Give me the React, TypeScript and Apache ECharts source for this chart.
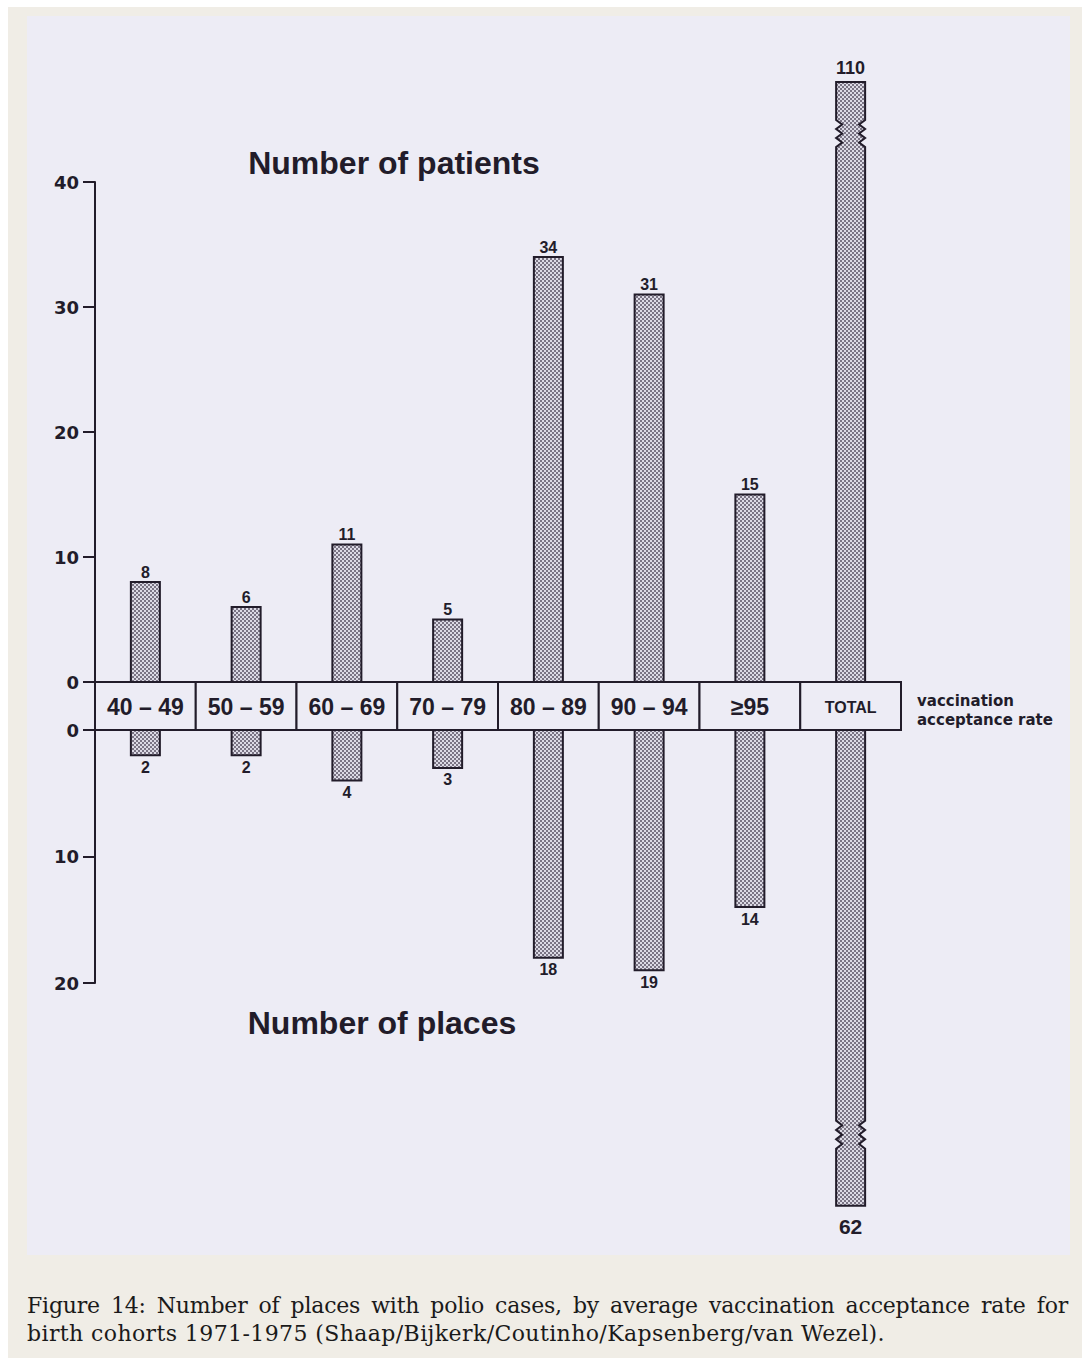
import React, { useEffect, useRef } from 'react';
import * as echarts from 'echarts';

// ---------------- data ----------------
const categories = ['40 – 49', '50 – 59', '60 – 69', '70 – 79', '80 – 89', '90 – 94', '≥95', 'TOTAL'];
const patients = [8, 6, 11, 5, 34, 31, 15, 110];
const places = [2, 2, 4, 3, 18, 19, 14, 62];
const patientsTicks = { min: 0, max: 40, interval: 10 };
const placesTicks = { min: 0, max: 20, interval: 10 };
const topTitle = 'Number of patients';
const bottomTitle = 'Number of places';
const rateLabel = 'vaccination\nacceptance rate';
const captionLines = [
  'Figure 14: Number of places with polio cases, by average vaccination acceptance rate for',
  'birth cohorts 1971-1975 (Shaap/Bijkerk/Coutinho/Kapsenberg/van Wezel).',
];

// ---------------- style ----------------
const INK = '#221c2a';
const PAPER = '#edecf5';
const FRAME = '#f0ede6';
const BAR_W = 29;
const BAND_H = 48;
// Broken TOTAL bar: the value is drawn up to this many axis units, with a zigzag break
const TOP_BREAK_SHOWN = 48;
const BOTTOM_BREAK_SHOWN = 37.6;

function makePattern() {
  const c = document.createElement('canvas');
  c.width = 4;
  c.height = 4;
  const ctx = c.getContext('2d');
  if (ctx) {
    ctx.fillStyle = '#dcdae5';
    ctx.fillRect(0, 0, 4, 4);
    ctx.fillStyle = '#7a7484';
    ctx.fillRect(0, 0, 2, 2);
    ctx.fillRect(2, 2, 2, 2);
  }
  return { image: c.toDataURL(), repeat: 'repeat', imageWidth: 4, imageHeight: 4 } as any;
}

function txt(text: string, x: number, y: number, size: number, family: string, align: string, vAlign: string, extra: any = {}) {
  return {
    type: 'text',
    style: {
      text, x, y,
      fontSize: size,
      fontWeight: 'bold',
      fontFamily: family,
      fill: INK,
      align, verticalAlign: vAlign,
      textAlign: align, textVerticalAlign: vAlign,
      ...extra,
    },
  };
}

function barRender(isTop: boolean, pattern: any) {
  return (params: any, api: any) => {
    const i = api.value(0);
    const v = api.value(1);
    const cap = isTop ? TOP_BREAK_SHOWN : BOTTOM_BREAK_SHOWN;
    const broken = v > cap;
    const shown = broken ? cap : v;
    const p0 = api.coord([i, 0]);
    const p1 = api.coord([i, shown]);
    const xc = p0[0];
    const x0 = xc - BAR_W / 2;
    const x1 = xc + BAR_W / 2;
    const yb = p0[1];
    const ye = p1[1];
    const dir = isTop ? -1 : 1;
    const children: any[] = [];
    if (!broken) {
      children.push({
        type: 'rect',
        shape: { x: x0, y: Math.min(yb, ye), width: BAR_W, height: Math.abs(ye - yb) },
        style: { fill: pattern, stroke: INK, lineWidth: 2 },
      });
    } else {
      const offs = isTop ? [38, 65] : [57, 85];
      const near = ye - dir * offs[0];
      const far = ye - dir * offs[1];
      const steps = 6;
      const amp = 6;
      const left: number[][] = [];
      const right: number[][] = [];
      for (let k = 0; k <= steps; k++) {
        const y = far + ((near - far) * k) / steps;
        const d = k % 2 === 1 ? amp : 0;
        left.push([x0 + d, y]);
        right.push([x1 - d, y]);
      }
      const pts: number[][] = [[x0, yb], ...left, [x0, ye], [x1, ye], ...right.reverse(), [x1, yb]];
      children.push({
        type: 'polygon',
        shape: { points: pts },
        style: { fill: pattern, stroke: INK, lineWidth: 2 },
      });
    }
    const last = i === categories.length - 1;
    const size = last ? (isTop ? 18 : 21) : 16;
    const label = String(v);
    if (isTop) {
      children.push(txt(label, xc, ye - (last ? 5 : 2), size, 'Liberation Sans', 'center', 'bottom'));
    } else {
      children.push(txt(label, xc, ye + (last ? 10 : 4), size, 'Liberation Sans', 'center', 'top'));
    }
    return { type: 'group', children };
  };
}

function bandRender(params: any, api: any) {
  const i = api.value(0);
  const p = api.coord([i, 0]);
  const bw = api.size([1, 0])[0];
  const children: any[] = [
    {
      type: 'rect',
      shape: { x: p[0] - bw / 2, y: p[1], width: bw, height: BAND_H },
      style: { fill: PAPER, stroke: INK, lineWidth: 2 },
    },
  ];
  const isTotal = categories[i] === 'TOTAL';
  children.push(
    txt(categories[i], p[0], p[1] + BAND_H / 2 + 1, isTotal ? 16 : 23, 'Liberation Sans', 'center', 'middle')
  );
  if (i === 0) {
    children.push({ type: 'line', shape: { x1: p[0] - bw / 2 - 12, y1: p[1], x2: p[0] - bw / 2, y2: p[1] }, style: { stroke: INK, lineWidth: 2 } });
    children.push({ type: 'line', shape: { x1: p[0] - bw / 2 - 12, y1: p[1] + BAND_H, x2: p[0] - bw / 2, y2: p[1] + BAND_H }, style: { stroke: INK, lineWidth: 2 } });
  }
  return { type: 'group', children };
}

function yAxisCfg(grid: number, ticks: any, inverse: boolean) {
  return {
    gridIndex: grid,
    type: 'value',
    inverse,
    min: ticks.min,
    max: ticks.max,
    interval: ticks.interval,
    axisLine: { show: true, lineStyle: { color: INK, width: 2 } },
    axisTick: { show: true, inside: false, length: 12, lineStyle: { color: INK, width: 2 } },
    axisLabel: {
      show: true,
      color: INK,
      fontFamily: 'DejaVu Sans',
      fontWeight: 'bold',
      fontSize: 18,
      margin: 16,
      showMinLabel: true,
      showMaxLabel: true,
    },
    splitLine: { show: false },
  };
}

function Chart() {
  const ref = useRef<HTMLDivElement>(null);
  useEffect(() => {
    if (!ref.current) return;
    const chart = echarts.init(ref.current, undefined, { renderer: 'svg' });
    const pattern = makePattern();
    chart.setOption({
      animation: false,
      backgroundColor: 'transparent',
      grid: [
        { left: 95, top: 182, width: 806, height: 500, outerBoundsMode: 'none', containLabel: false },
        { left: 95, top: 730, width: 806, height: 253, outerBoundsMode: 'none', containLabel: false },
      ],
      xAxis: [
        { gridIndex: 0, type: 'category', data: categories, show: false },
        { gridIndex: 1, type: 'category', data: categories, show: false },
      ],
      yAxis: [yAxisCfg(0, patientsTicks, false), yAxisCfg(1, placesTicks, true)],
      series: [
        {
          type: 'custom',
          name: 'patients',
          xAxisIndex: 0,
          yAxisIndex: 0,
          clip: false,
          data: patients.map((v, i) => [i, v]),
          renderItem: barRender(true, pattern),
        },
        {
          type: 'custom',
          name: 'places',
          xAxisIndex: 1,
          yAxisIndex: 1,
          clip: false,
          data: places.map((v, i) => [i, v]),
          renderItem: barRender(false, pattern),
        },
        {
          type: 'custom',
          name: 'bands',
          xAxisIndex: 0,
          yAxisIndex: 0,
          clip: false,
          data: categories.map((c, i) => [i, 0]),
          renderItem: bandRender,
        },
      ],
      graphic: [
        txt(topTitle, 394, 163, 32, 'Liberation Sans', 'center', 'middle'),
        txt(bottomTitle, 382, 1023, 32, 'Liberation Sans', 'center', 'middle'),
        txt(rateLabel, 917, 691, 15, 'DejaVu Sans', 'left', 'top', { lineHeight: 19 }),
      ],
    });
    return () => chart.dispose();
  }, []);
  return <div ref={ref} style={{ position: 'absolute', left: 0, top: 0, width: 1082, height: 1358 }} />;
}

export default function App() {
  useEffect(() => {
    document.body.style.margin = '0';
    document.body.style.background = '#ffffff';
  }, []);
  return (
    <div style={{ position: 'relative', width: 1082, height: 1358, background: '#ffffff', overflow: 'hidden' }}>
      <div style={{ position: 'absolute', left: 8, top: 7, width: 1074, height: 1351, background: FRAME }} />
      <div style={{ position: 'absolute', left: 27, top: 16, width: 1043, height: 1239, background: PAPER }} />
      <Chart />
      <div
        style={{
          position: 'absolute',
          left: 27,
          top: 1292,
          width: 1041,
          fontFamily: '"DejaVu Serif", serif',
          fontSize: 22,
          lineHeight: '28px',
          color: '#1a1a1a',
        }}
      >
        <div style={{ textAlign: 'justify', textAlignLast: 'justify', whiteSpace: 'nowrap', letterSpacing: '-0.2px' }}>
          {captionLines[0]}
        </div>
        <div style={{ whiteSpace: 'nowrap', letterSpacing: '0.4px' }}>{captionLines[1]}</div>
      </div>
    </div>
  );
}
